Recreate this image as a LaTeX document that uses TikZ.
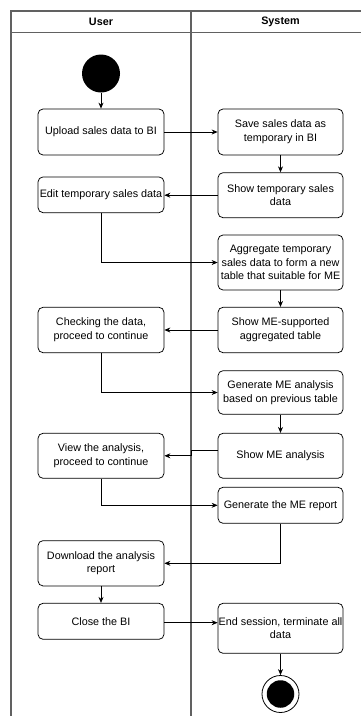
\documentclass[tikz,border=0pt]{standalone}
\usepackage{fontspec}
\setmainfont{Liberation Sans}
\usetikzlibrary{arrows.meta,calc}
\begin{document}
\begin{tikzpicture}[x=1pt,y=-1pt,
  act/.style={draw=black,rounded corners=5pt,line width=0.75pt,minimum width=126pt,
    align=center,font=\fontsize{10.8}{13.6}\selectfont,inner sep=0pt},
  flow/.style={draw=black,line width=0.75pt,-{Stealth[length=6pt,width=5pt]}},
  lane/.style={draw=black!62,line width=1.1pt},
  hdr/.style={font=\fontsize{10.8}{13}\selectfont\bfseries}]
\useasboundingbox (0,0) rectangle (360,716);
% swimlanes
\draw[lane] (11,720) -- (11,11) -- (372,11);
\draw[lane] (11,32.3) -- (372,32.3);
\draw[lane] (191,11) -- (191,720);
\coordinate (L) at (191,32.3);
\node[hdr] (hu) at (101,21.7) {User};
\node[hdr] (hs) at (280.5,21.7) {System};
% start
\node[circle,fill=black,minimum size=38pt,inner sep=0pt] (start) at (101,73.5) {};
% activities
\node[act,minimum height=46pt] (b1) at (101,132) {Upload sales data to BI};
\node[act,minimum height=46pt,minimum width=125pt] (b2) at (280.5,132) {Save sales data as\\temporary in BI};
\node[act,minimum height=45pt,minimum width=125pt] (b3) at (280.5,195.2) {Show temporary sales\\data};
\node[act,minimum height=35.7pt] (b4) at (101,194.8) {Edit temporary sales data};
\node[act,minimum height=55pt,minimum width=125pt] (b5) at (280.5,262.5) {Aggregate temporary\\sales data to form a new\\table that suitable for ME};
\node[act,minimum height=45.4pt,minimum width=125pt] (b6) at (280.5,330) {Show ME-supported\\aggregated table};
\node[act,minimum height=45.4pt] (b7) at (101,330) {Checking the data,\\proceed to continue};
\node[act,minimum height=43.6pt,minimum width=125pt] (b8) at (280.5,392.5) {Generate ME analysis\\based on previous table};
\node[act,minimum height=45pt,minimum width=125pt] (b9) at (280.5,455.8) {Show ME analysis};
\node[act,minimum height=45pt] (b10) at (101,455.8) {View the analysis,\\proceed to continue};
\node[act,minimum height=36pt,minimum width=125pt] (b11) at (280.5,505.3) {Generate the ME report};
\node[act,minimum height=45.3pt] (b12) at (101,563.3) {Download the analysis\\report};
\node[act,minimum height=36pt] (b13) at (101,621.3) {Close the BI};
\node[act,minimum height=50pt,minimum width=125pt] (b14) at (280.5,628.3) {End session, terminate all\\data};
% end
\node[circle,draw=black,line width=0.8pt,minimum size=37pt,inner sep=0pt] (end) at (280.5,694) {};
\node[circle,fill=black,minimum size=27.5pt,inner sep=0pt] (endin) at (end) {};
% connectors
\draw[flow] (start) -- (b1);
\draw[flow] (b1) -- (b2);
\draw[flow] (b2) -- (b3);
\draw[flow] (b3.west) -- (b3.west -| b4.east);
\draw[flow] (b4.south) |- (b5.west);
\draw[flow] (b5) -- (b6);
\draw[flow] (b6.west) -- (b6.west -| b7.east);
\draw[flow] (b7.south) |- (b8.west);
\draw[flow] (b8) -- (b9);
\draw[flow] ([yshift=5.8pt]b9.west) -- ([yshift=5.8pt]b9.west -| L) |- (b10.east);
\draw[flow] (b10.south) |- (b11.west);
\draw[flow] (b11.south) |- (b12.east);
\draw[flow] (b12) -- (b13);
\draw[flow] ([yshift=-1.4pt]b13.east) -- ([yshift=-1.4pt]b13.east -| b14.west);
\draw[flow] (b14) -- (end);
\end{tikzpicture}
\end{document}
